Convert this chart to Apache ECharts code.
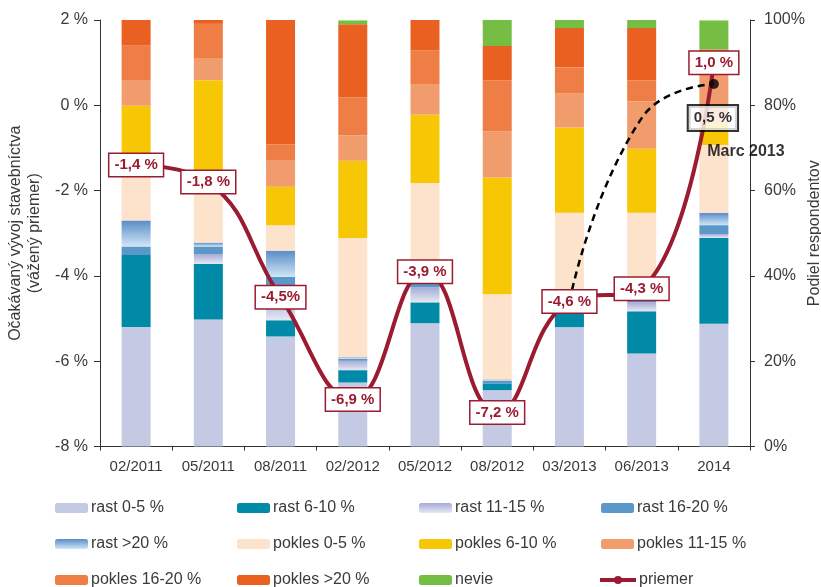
<!DOCTYPE html>
<html>
<head>
<meta charset="utf-8">
<title>Očakávaný vývoj stavebníctva</title>
<script src="https://cdn.jsdelivr.net/npm/echarts@6/dist/echarts.min.js"></script>
<style>
  html, body { margin: 0; padding: 0; background: #fff; }
  #chart { width: 821px; height: 587px; }
</style>
</head>
<body>
<div id="chart"></div>
<script>
// Survey rounds
const categories = ['02/2011', '05/2011', '08/2011', '02/2012', '05/2012', '08/2012', '03/2013', '06/2013', '2014'];

// Share of respondents (%) per answer band, stacked bottom to top
const rast0_5      = [28.0, 29.8, 25.8, 15.0, 28.9, 13.2, 28.0, 21.8, 28.8];
const rast6_10     = [16.9, 13.0,  3.8,  2.9,  4.9,  1.6,  3.5,  9.9, 20.1];
const rast11_15    = [ 0.0,  2.3,  5.5,  2.2,  3.5,  0.0,  1.0,  2.1,  0.9];
const rast16_20    = [ 2.0,  1.8,  4.7,  0.5,  1.5,  0.6,  0.5,  0.6,  2.1];
const rastOver20   = [ 6.1,  0.9,  6.1,  0.3,  1.0,  0.3,  0.4,  0.4,  2.9];
const pokles0_5    = [14.3, 16.7,  6.0, 28.0, 22.0, 20.0, 21.4, 20.0, 15.9];
const pokles6_10   = [12.6, 21.4,  9.0, 18.1, 16.0, 27.4, 20.0, 15.0,  5.1];
const pokles11_15  = [ 6.0,  5.2,  6.1,  5.9,  7.1, 10.8,  8.0, 11.1, 11.8];
const pokles16_20  = [ 8.1,  8.0,  3.8,  9.0,  8.0, 12.0,  6.1,  4.9,  5.5];
const poklesOver20 = [ 6.0,  0.9, 29.2, 17.1,  7.1,  8.0,  9.2, 12.3,  0.0];
const nevie        = [ 0.0,  0.0,  0.0,  0.9,  0.0,  6.1,  1.9,  1.9,  6.8];

// Weighted average of expected change (%)
const priemer = [-1.4, -1.8, -4.5, -6.9, -3.9, -7.2, -4.6, -4.3, 1.0];
const priemerLabels = ['-1,4 %', '-1,8 %', '-4,5%', '-6,9 %', '-3,9 %', '-7,2 %', '-4,6 %', '-4,3 %', '1,0 %'];

// Expectation as of the March 2013 survey
const marec2013 = [null, null, null, null, null, null, -4.6, -0.3, 0.5];
const marec2013Label = '0,5 %';
const marec2013Name = 'Marc 2013';

// Tick labels
const leftTicks = [-8, -6, -4, -2, 0, 2];
const rightTicks = [0, 20, 40, 60, 80, 100];

const FONT = 'Liberation Sans, Arial, sans-serif';
const TEXT = '#3a3a3a';
const RED = '#9b1c31';

const grad = (top, bottom) => ({
  type: 'linear', x: 0, y: 0, x2: 0, y2: 1,
  colorStops: [{ offset: 0, color: top }, { offset: 1, color: bottom }]
});

const barSeries = [
  { name: 'rast 0-5 %',     data: rast0_5,      color: '#c5cae4' },
  { name: 'rast 6-10 %',    data: rast6_10,     color: '#008aa7' },
  { name: 'rast 11-15 %',   data: rast11_15,    color: grad('#a6abd5', '#e6e8f4') },
  { name: 'rast 16-20 %',   data: rast16_20,    color: '#5b97c9' },
  { name: 'rast >20 %',     data: rastOver20,   color: grad('#5a8cc6', '#cfe6f6') },
  { name: 'pokles 0-5 %',   data: pokles0_5,    color: '#fde3cb' },
  { name: 'pokles 6-10 %',  data: pokles6_10,   color: '#f7c604' },
  { name: 'pokles 11-15 %', data: pokles11_15,  color: '#f19c6d' },
  { name: 'pokles 16-20 %', data: pokles16_20,  color: '#ee7e45' },
  { name: 'pokles >20 %',   data: poklesOver20, color: '#e96021' },
  { name: 'nevie',          data: nevie,        color: '#76be43' }
].map(s => ({
  name: s.name,
  type: 'bar',
  stack: 'share',
  yAxisIndex: 1,
  barWidth: 29,
  itemStyle: { color: s.color },
  data: s.data,
  z: 2
}));

// Legend as a 4 x 3 grid, one legend block per entry
const legendItems = [
  'rast 0-5 %', 'rast 6-10 %', 'rast 11-15 %', 'rast 16-20 %',
  'rast >20 %', 'pokles 0-5 %', 'pokles 6-10 %', 'pokles 11-15 %',
  'pokles 16-20 %', 'pokles >20 %', 'nevie', 'priemer'
];
const legendLefts = [55, 237, 419, 601];
const legendTops = [500, 536, 572];

const legends = legendItems.map((name, i) => {
  const isLine = name === 'priemer';
  return {
    data: [name],
    left: legendLefts[i % 4] - (isLine ? 3 : 0),
    top: legendTops[Math.floor(i / 4)],
    padding: 0,
    itemWidth: isLine ? 36 : 33,
    itemHeight: 10,
    selectedMode: false,
    lineStyle: isLine ? { width: 4 } : undefined,
    textStyle: { fontFamily: FONT, fontSize: 16, color: TEXT, padding: [0, 0, 0, -2] }
  };
});

const chart = echarts.init(document.getElementById('chart'), null, { renderer: 'canvas' });

chart.setOption({
  animation: false,
  textStyle: { fontFamily: FONT },
  grid: { left: 100, right: 71, top: 20, bottom: 140.5, containLabel: false, outerBoundsMode: 'none' },
  legend: legends,
  xAxis: {
    type: 'category',
    data: categories,
    boundaryGap: true,
    axisLine: { onZero: false, lineStyle: { color: '#333', width: 1 } },
    axisTick: { show: true, length: 4, lineStyle: { color: '#333' } },
    axisLabel: { fontFamily: FONT, fontSize: 15, color: TEXT, margin: 13, interval: 0 }
  },
  yAxis: [
    {
      type: 'value',
      min: leftTicks[0],
      max: leftTicks[leftTicks.length - 1],
      interval: 2,
      position: 'left',
      name: 'Očakávaný vývoj stavebníctva\n(vážený priemer)',
      nameLocation: 'middle',
      nameRotate: 90,
      nameGap: 56,
      nameTextStyle: { fontFamily: FONT, fontSize: 16, color: TEXT, lineHeight: 19, align: 'center' },
      splitLine: { show: false },
      axisLine: { show: true, onZero: false, lineStyle: { color: '#333', width: 1 } },
      axisTick: { show: true, length: 6, lineStyle: { color: '#333' } },
      axisLabel: {
        fontFamily: FONT, fontSize: 16, color: TEXT, margin: 12,
        formatter: v => v + ' %'
      }
    },
    {
      type: 'value',
      min: rightTicks[0],
      max: rightTicks[rightTicks.length - 1],
      interval: 20,
      position: 'right',
      name: 'Podiel respondentov',
      nameLocation: 'middle',
      nameRotate: 90,
      nameGap: 57,
      nameMoveOverlap: false,
      nameTextStyle: { fontFamily: FONT, fontSize: 16, color: TEXT },
      splitLine: { show: false },
      axisLine: { show: true, onZero: false, lineStyle: { color: '#333', width: 1 } },
      axisTick: { show: true, length: 5, lineStyle: { color: '#333' } },
      axisLabel: {
        fontFamily: FONT, fontSize: 16, color: TEXT, margin: 14,
        formatter: v => v + '%'
      }
    }
  ],
  series: [
    ...barSeries,
    {
      name: marec2013Name,
      type: 'line',
      yAxisIndex: 0,
      data: marec2013,
      smooth: 0.5,
      symbol: 'none',
      connectNulls: false,
      lineStyle: { color: '#000', width: 2.5, type: [7, 5] },
      z: 3,
      silent: true
    },
    {
      name: 'priemer',
      type: 'line',
      yAxisIndex: 0,
      data: priemer,
      smooth: 0.45,
      symbol: 'circle',
      symbolSize: 10,
      itemStyle: { color: RED },
      lineStyle: { color: RED, width: 4 },
      label: {
        show: true,
        position: 'inside',
        formatter: p => priemerLabels[p.dataIndex],
        fontFamily: FONT,
        fontSize: 15,
        fontWeight: 'bold',
        color: RED,
        backgroundColor: '#fff',
        borderColor: RED,
        borderWidth: 1.5,
        padding: [4, 5, 3, 5]
      },
      z: 4
    },
    {
      name: marec2013Label,
      type: 'scatter',
      yAxisIndex: 0,
      data: marec2013.map((v, i) => (i === marec2013.length - 1 ? v : null)),
      symbol: 'circle',
      symbolSize: 10,
      itemStyle: { color: '#000' },
      label: {
        show: true,
        position: 'inside',
        offset: [-1, 34],
        formatter: () => marec2013Label,
        fontFamily: FONT,
        fontSize: 15,
        fontWeight: 'bold',
        color: '#000',
        backgroundColor: '#fff',
        borderColor: '#000',
        borderWidth: 2,
        padding: [5, 5, 4, 5]
      },
      z: 5,
      silent: true
    },
    {
      name: marec2013Name,
      type: 'scatter',
      yAxisIndex: 0,
      data: marec2013.map((v, i) => (i === marec2013.length - 1 ? v : null)),
      symbolSize: 0,
      label: {
        show: true,
        position: 'inside',
        offset: [32, 68],
        formatter: p => p.seriesName,
        fontFamily: FONT,
        fontSize: 16,
        fontWeight: 'bold',
        color: '#000'
      },
      z: 5,
      silent: true
    }
  ]
});
</script>
</body>
</html>
